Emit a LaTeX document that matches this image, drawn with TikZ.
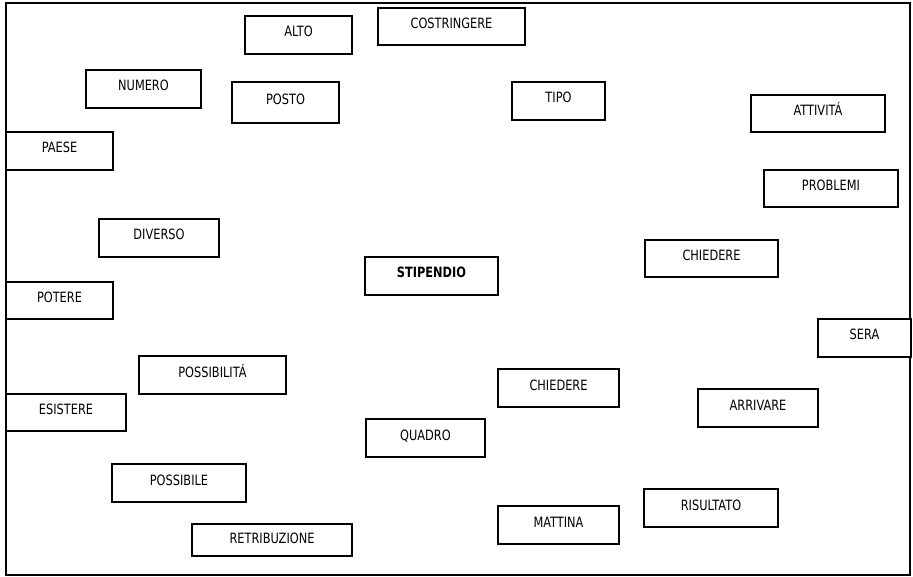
\documentclass[tikz,border=0pt]{standalone}
\usepackage{fontspec}
\setmainfont[FakeStretch=0.8]{DejaVu Sans}
\begin{document}
\begin{tikzpicture}[x=1pt,y=-1pt,
  frame/.style={draw=black,line width=1.3pt},
  wordbox/.style={draw=black,line width=1.3pt,fill=white,rectangle,inner sep=0pt,
    text height=10.5pt,text depth=6.5pt,font=\fontsize{14.2}{15}\selectfont},
  keybox/.style={wordbox,font=\fontsize{14.2}{15}\selectfont\bfseries}]
\useasboundingbox (0,0) rectangle (913,577);
\draw[frame] (6,3) rectangle (910,575);
% word boxes: centre, width, height
\node[wordbox,minimum width=107,minimum height=38] (alto) at (298.5,35) {ALTO};
\node[wordbox,minimum width=147,minimum height=37] (costringere) at (451.5,26.5) {COSTRINGERE};
\node[wordbox,minimum width=115,minimum height=38] (numero) at (143.5,89) {NUMERO};
\node[wordbox,minimum width=107,minimum height=41] (posto) at (285.5,102.5) {POSTO};
\node[wordbox,minimum width=93,minimum height=38] (tipo) at (558.5,101) {TIPO};
\node[wordbox,minimum width=134,minimum height=37] (attivita) at (818,113.5) {ATTIVITÁ};
\node[wordbox,minimum width=107,minimum height=38] (paese) at (59.5,151) {PAESE};
\node[wordbox,minimum width=134,minimum height=37] (problemi) at (831,188.5) {PROBLEMI};
\node[wordbox,minimum width=120,minimum height=38] (diverso) at (159,238) {DIVERSO};
\node[wordbox,minimum width=133,minimum height=37] (chiedereA) at (711.5,258.5) {CHIEDERE};
\node[keybox,minimum width=133,minimum height=38] (stipendio) at (431.5,276) {STIPENDIO};
\node[wordbox,minimum width=107,minimum height=37] (potere) at (59.5,300.5) {POTERE};
\node[wordbox,minimum width=93,minimum height=38] (sera) at (864.5,338) {SERA};
\node[wordbox,minimum width=147,minimum height=38] (possibilita) at (212.5,375) {POSSIBILITÁ};
\node[wordbox,minimum width=121,minimum height=38] (chiedereB) at (558.5,388) {CHIEDERE};
\node[wordbox,minimum width=120,minimum height=37] (esistere) at (66,412.5) {ESISTERE};
\node[wordbox,minimum width=120,minimum height=38] (arrivare) at (758,408) {ARRIVARE};
\node[wordbox,minimum width=119,minimum height=38] (quadro) at (425.5,438) {QUADRO};
\node[wordbox,minimum width=134,minimum height=38] (possibile) at (179,483) {POSSIBILE};
\node[wordbox,minimum width=134,minimum height=38] (risultato) at (711,508) {RISULTATO};
\node[wordbox,minimum width=121,minimum height=38] (mattina) at (558.5,525) {MATTINA};
\node[wordbox,minimum width=160,minimum height=32,text depth=4.5pt] (retribuzione) at (272,540) {RETRIBUZIONE};
\end{tikzpicture}
\end{document}
